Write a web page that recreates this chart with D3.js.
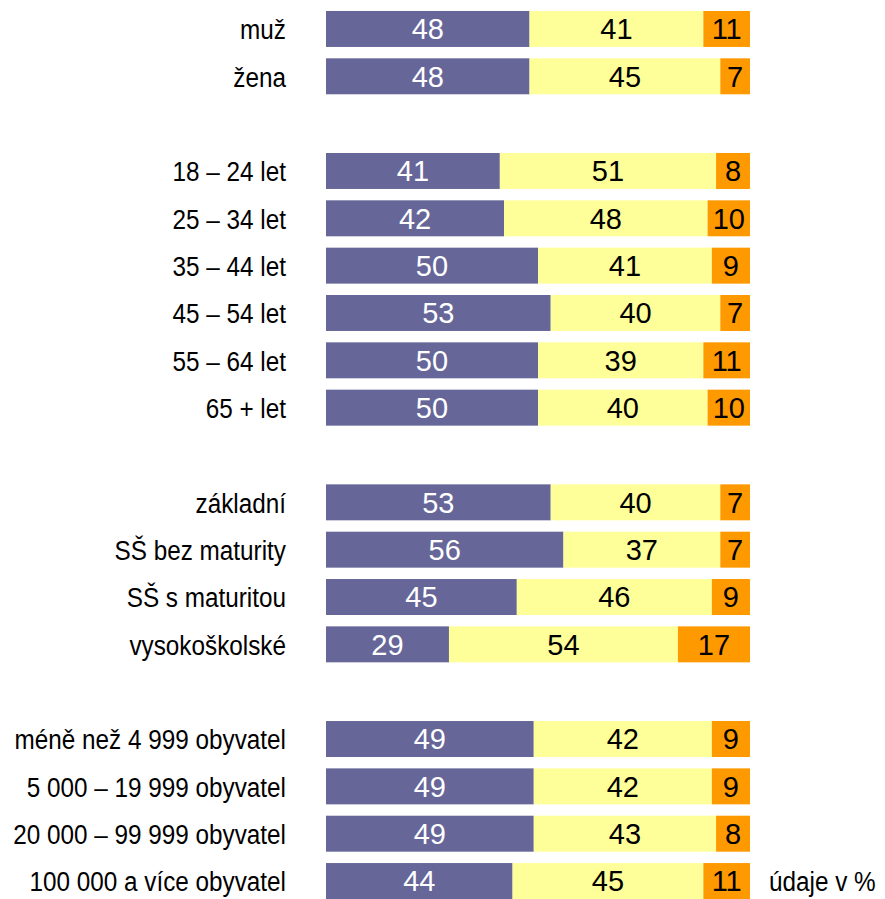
<!DOCTYPE html>
<html><head><meta charset="utf-8">
<script src="https://cdn.jsdelivr.net/npm/d3@7"></script>
<style>body{margin:0;background:#fff}svg{display:block}</style>
</head><body>
<script>
const categories = ["muž","žena","","18 – 24 let","25 – 34 let","35 – 44 let","45 – 54 let","55 – 64 let","65 + let","","základní","SŠ bez maturity","SŠ s maturitou","vysokoškolské","","méně než 4 999 obyvatel","5 000 – 19 999 obyvatel","20 000 – 99 999 obyvatel","100 000 a více obyvatel"];
const series1 = [48,48,null,41,42,50,53,50,50,null,53,56,45,29,null,49,49,49,44];
const series2 = [41,45,null,51,48,41,40,39,40,null,40,37,46,54,null,42,42,43,45];
const series3 = [11,7,null,8,10,9,7,11,10,null,7,7,9,17,null,9,9,8,11];
const colors = ["#666699","#FFFF99","#FF9900"];
const textColors = ["#ffffff","#000000","#000000"];
const note = "údaje v %";

const W = 885, H = 899;
const svg = d3.select("body").append("svg").attr("width", W).attr("height", H);
const font = "'Liberation Sans', Arial, sans-serif";

const y = d3.scaleBand().domain(d3.range(categories.length)).range([5.3, 904.7]).paddingInner(0.24).paddingOuter(0.12);
const x = d3.scaleLinear().domain([0, 100]).range([326, 750]);

const rows = categories.map((c, i) => ({c, i, v: [series1[i], series2[i], series3[i]]})).filter(d => d.v[0] != null);

function label(px, py, txt, anchor) {
  svg.append("text")
    .attr("transform", `translate(${px},${py}) scale(0.9,1)`)
    .attr("dy", "0.38em")
    .attr("text-anchor", anchor).attr("font-family", font).attr("font-size", 27).attr("fill", "#000").text(txt);
}

rows.forEach(d => {
  let acc = 0;
  const cy = y(d.i) + y.bandwidth() / 2;
  d.v.forEach((v, k) => {
    const x0 = x(acc), x1 = x(acc + v);
    svg.append("rect").attr("x", x0).attr("y", y(d.i)).attr("width", x1 - x0).attr("height", y.bandwidth()).attr("fill", colors[k]);
    svg.append("text").attr("x", (x0 + x1) / 2).attr("y", cy).attr("dy", "0.36em")
      .attr("text-anchor", "middle").attr("font-family", font).attr("font-size", 29).attr("fill", textColors[k]).text(v);
    acc += v;
  });
  label(286, cy, d.c, "end");
});

label(769, y(18) + y.bandwidth() / 2, note, "start");
</script>
</body></html>
